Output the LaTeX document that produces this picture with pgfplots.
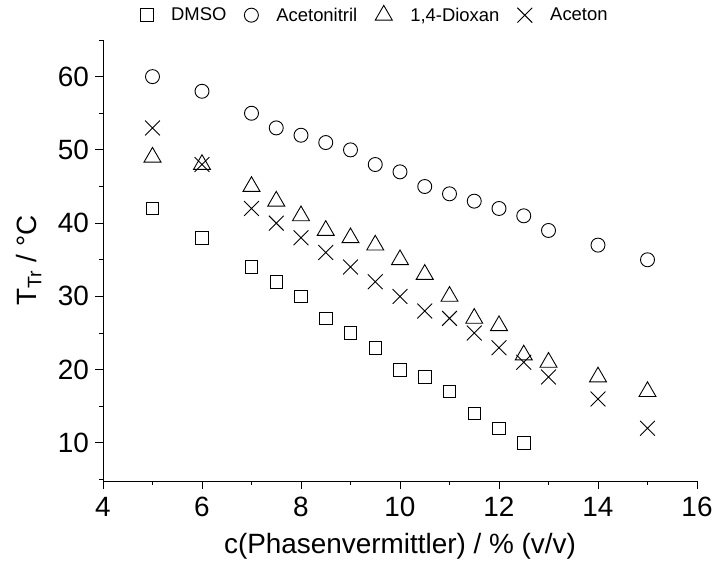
\documentclass[border=0pt]{standalone}
\usepackage{fontspec}
\setmainfont{Liberation Sans}
\usepackage{pgfplots}
\pgfplotsset{compat=1.18}
\begin{document}
\begin{tikzpicture}
\begin{axis}[
  scale only axis, width=594bp, height=441bp,
  xmin=4, xmax=16, ymin=4.8, ymax=65,
  axis x line*=bottom, axis y line*=left,
  axis line style={line width=0.9bp, -},
  xtick={4,6,...,16}, ytick={10,20,...,60},
  minor xtick={5,7,...,15}, minor ytick={5,15,...,65},
  tick align=outside, major tick length=7.5bp, minor tick length=3.5bp,
  tick style={line width=0.9bp, black},
  /pgf/number format/assume math mode=true,
  ticklabel style={font=\fontsize{28}{32}\selectfont},
  xticklabel style={yshift=-5bp},
  yticklabel style={xshift=-3bp},
  xlabel={c(Phasenvermittler) / \% (v/v)},
  ylabel={T\textsubscript{Tr} / °C},
  label style={font=\fontsize{28}{32}\selectfont},
  xlabel style={at={(axis description cs:0.5,-0.148)}, anchor=center},
  ylabel style={at={(axis description cs:-0.125,0.5)}, anchor=center},
  legend style={draw=none, fill=none, at={(0.458,1.0567)}, anchor=center,
    legend columns=-1, font=\fontsize{18.5}{21}\selectfont,
    /tikz/every odd column/.append style={column sep=16bp},
    /tikz/every even column/.append style={column sep=16bp}},
  legend cell align=left,
  every axis plot/.append style={only marks, black, line width=0.9bp},
  clip=false,
]
\addplot[mark=square, mark size=6.3bp] coordinates {
(5,42)(6,38)(7,34)(7.5,32)(8,30)(8.5,27)(9,25)(9.5,23)(10,20)(10.5,19)(11,17)(11.5,14)(12,12)(12.5,10)};
\addlegendentry{DMSO}
\addplot[mark=o, mark size=7bp] coordinates {
(5,60)(6,58)(7,55)(7.5,53)(8,52)(8.5,51)(9,50)(9.5,48)(10,47)(10.5,45)(11,44)(11.5,43)(12,42)(12.5,41)(13,39)(14,37)(15,35)};
\addlegendentry{Acetonitril}
\addplot[mark=triangle, mark size=9.8bp] coordinates {
(5,49)(6,48)(7,45)(7.5,43)(8,41)(8.5,39)(9,38)(9.5,37)(10,35)(10.5,33)(11,30)(11.5,27)(12,26)(12.5,22)(13,21)(14,19)(15,17)};
\addlegendentry{1,4-Dioxan}
\addplot[mark=x, mark size=10.5bp] coordinates {
(5,53)(6,48)(7,42)(7.5,40)(8,38)(8.5,36)(9,34)(9.5,32)(10,30)(10.5,28)(11,27)(11.5,25)(12,23)(12.5,21)(13,19)(14,16)(15,12)};
\addlegendentry{Aceton}
\end{axis}
\pgfresetboundingbox
\useasboundingbox (-103bp,-89bp) rectangle (612bp,481bp);
\end{tikzpicture}
\end{document}
